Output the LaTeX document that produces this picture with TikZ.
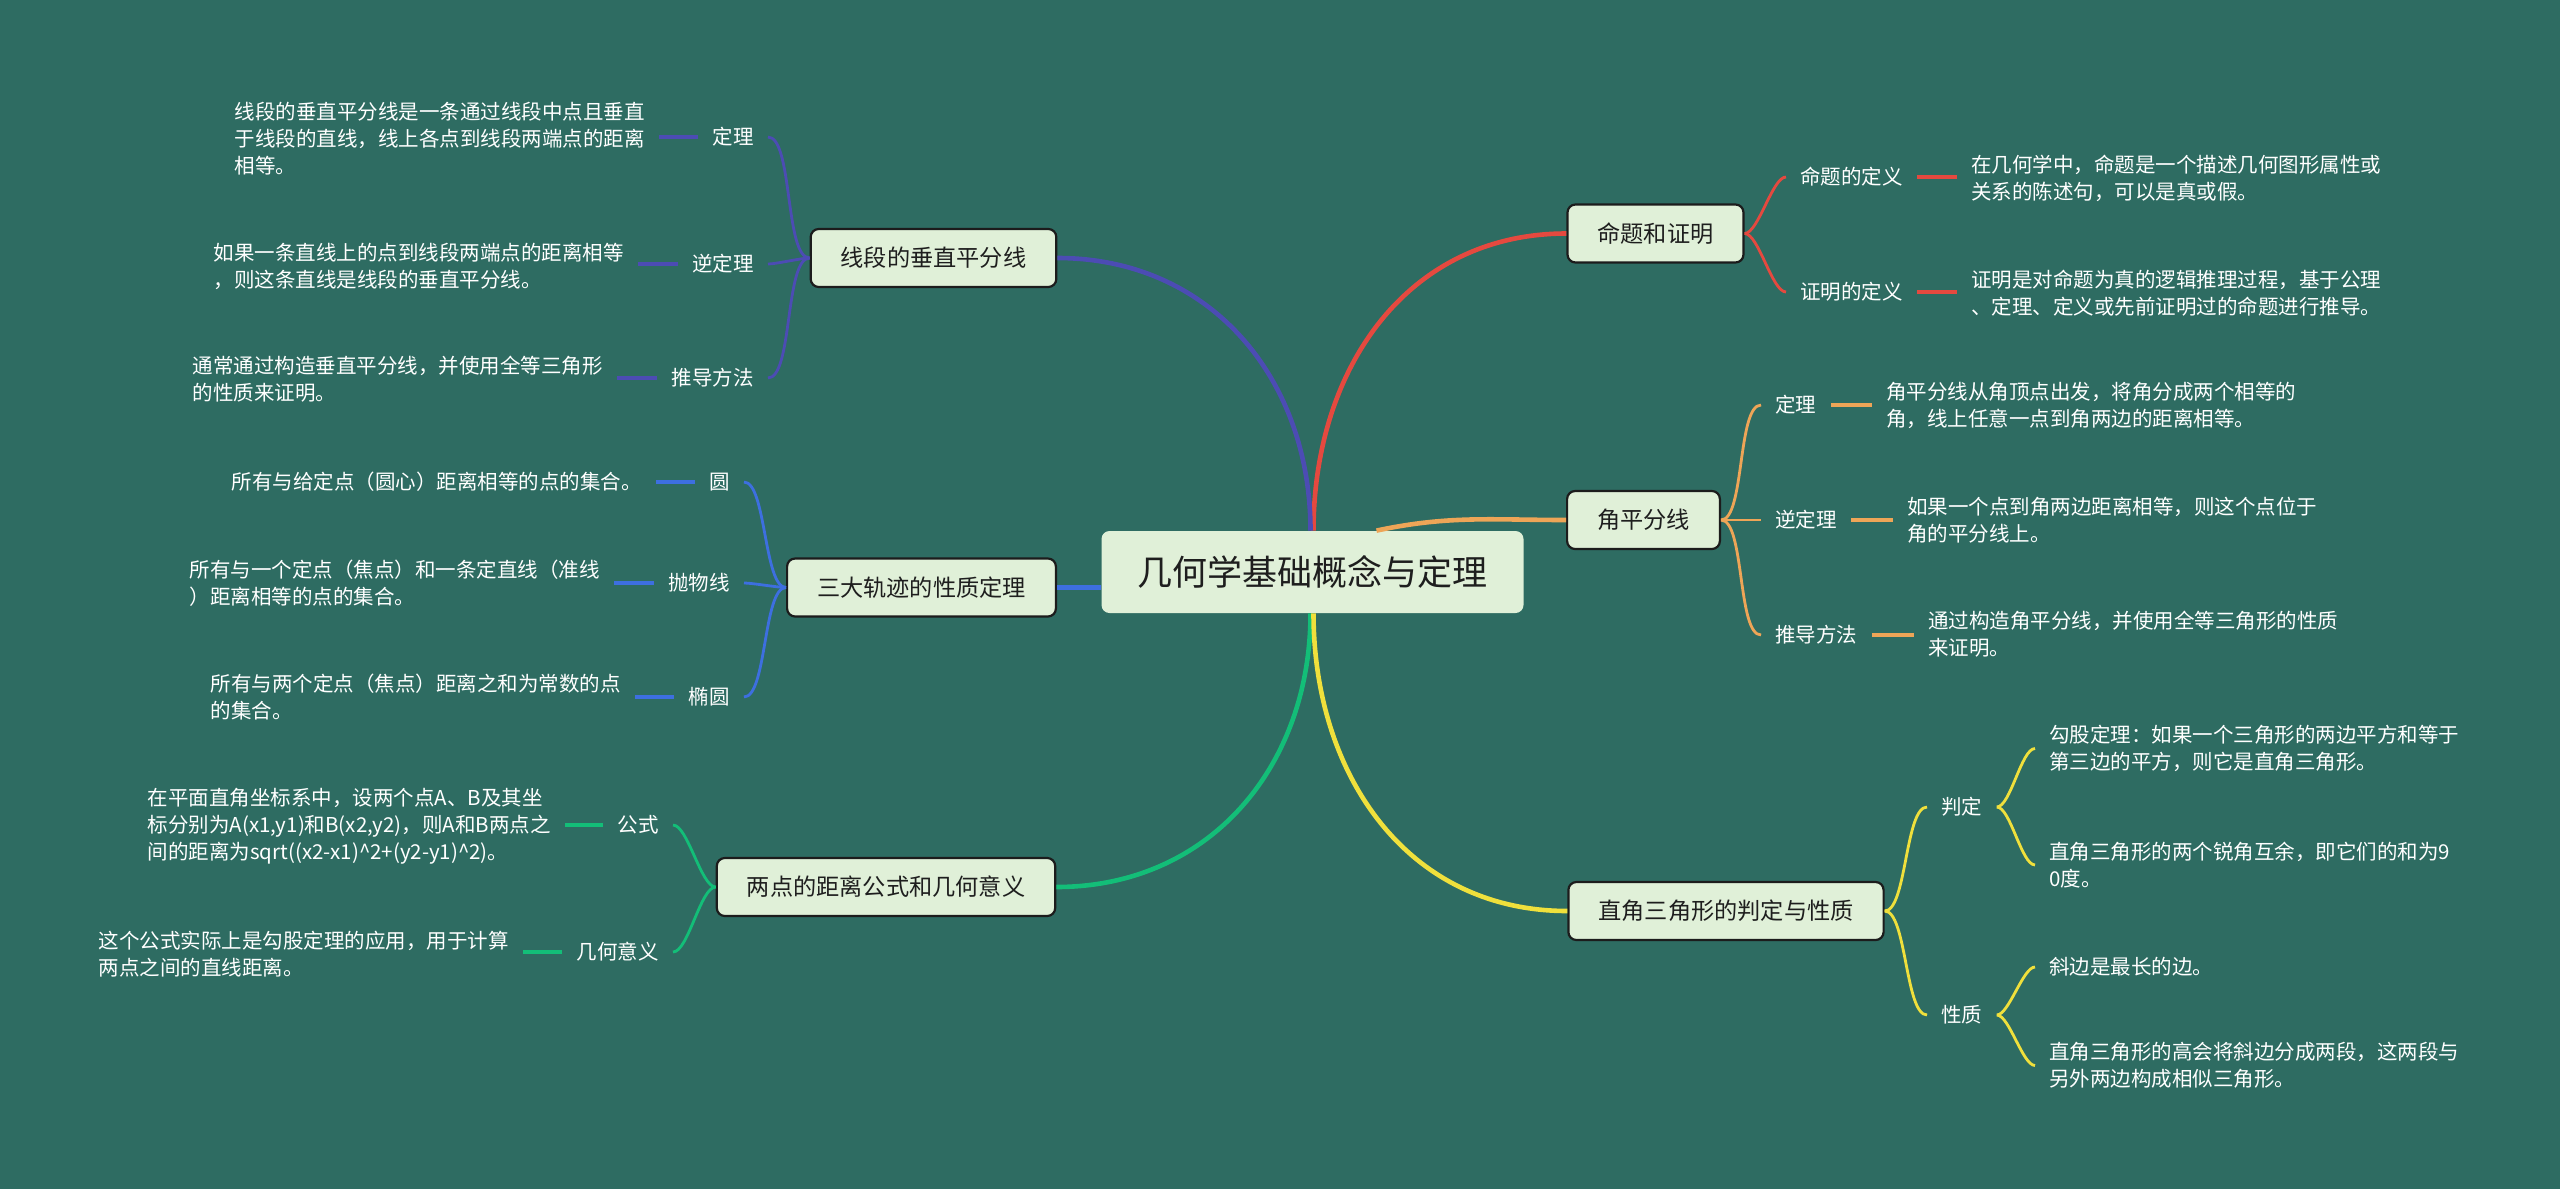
\documentclass[tikz,border=0pt]{standalone}
\usepackage{fontspec}
\setmainfont{Noto Sans CJK SC}
\definecolor{bgteal}{RGB}{46,108,98}
\definecolor{boxfill}{RGB}{224,240,216}
\definecolor{boxline}{RGB}{28,28,28}
\definecolor{boxtext}{RGB}{30,30,30}
\definecolor{redline}{RGB}{229,73,63}
\definecolor{navyline}{RGB}{76,76,180}
\definecolor{blueline}{RGB}{61,111,224}
\definecolor{greenline}{RGB}{19,190,120}
\definecolor{orangeline}{RGB}{238,165,87}
\definecolor{yellowline}{RGB}{240,224,60}

\begin{document}
\begin{tikzpicture}[x=0.5pt,y=-0.5pt,
  rootbox/.style={rounded corners=4pt,fill=boxfill,text=boxtext,minimum height=41pt,inner xsep=18pt,font=\fontsize{17.5}{21}\selectfont},
  topicbox/.style={rounded corners=4pt,draw=boxline,line width=1.1pt,fill=boxfill,text=boxtext,minimum height=29pt,inner xsep=15pt,font=\fontsize{11.6}{14}\selectfont},
  sublabel/.style={text=white,inner xsep=7pt,inner ysep=1pt,font=\fontsize{10.25}{13.5}\selectfont},
  leaftext/.style={text=white,align=left,inner xsep=7pt,inner ysep=1pt,font=\fontsize{10.25}{13.5}\selectfont},
  branch/.style={line width=2.3pt},
  twig/.style={line width=1.4pt,looseness=0.5},
  tick/.style={line width=1.7pt}]
  \fill[bgteal] (0,0) rectangle (2560,1189);

  \node (root) at (1312.5,572) [rootbox] {几何学基础概念与定理};

  \node (xd) at (933.5,258) [topicbox] {线段的垂直平分线};
  \node (gj) at (921.5,587.5) [topicbox] {三大轨迹的性质定理};
  \node (jl) at (886,887) [topicbox] {两点的距离公式和几何意义};
  \node (mt) at (1655.5,233.5) [topicbox] {命题和证明};
  \node (jp) at (1643.5,520) [topicbox] {角平分线};
  \node (zj) at (1726,911) [topicbox] {直角三角形的判定与性质};

  \draw[branch,redline] ([xshift=0.5pt]root.north) to[out=90,in=180,looseness=1.05] (mt.west);
  \draw[branch,navyline] ([xshift=-1pt]root.north) to[out=90,in=0,looseness=1.05] (xd.east);
  \draw[branch,orangeline] ([xshift=32pt]root.north) to[out=12,in=180] (jp.west);
  \draw[branch,blueline] (gj.east) -- (gj.east -| root.west);
  \draw[branch,greenline] ([xshift=-1pt]root.south) to[out=-90,in=0,looseness=1.05] (jl.east);
  \draw[branch,yellowline] ([xshift=0.5pt]root.south) to[out=-90,in=180,looseness=1.05] (zj.west);

  \node (xd1) at (768,137) [sublabel,anchor=east] {定理};
  \node (xd1t) at (659,139) [leaftext,anchor=east]
  {线段的垂直平分线是一条通过线段中点且垂直\\于线段的直线，线上各点到线段两端点的距离\\相等。};
  \node (xd2) at (768,264) [sublabel,anchor=east] {逆定理};
  \node (xd2t) at (638,266) [leaftext,anchor=east]
  {如果一条直线上的点到线段两端点的距离相等\\，则这条直线是线段的垂直平分线。};
  \node (xd3) at (768,378) [sublabel,anchor=east] {推导方法};
  \node (xd3t) at (617,379) [leaftext,anchor=east]
  {通常通过构造垂直平分线，并使用全等三角形\\的性质来证明。};
  \foreach \n in {xd1,xd2,xd3} {
    \draw[twig,navyline] (xd.west) to[out=180,in=0] (\n.east);
    \draw[tick,navyline] (\n.west) -- (\n.west -| \n t.east);
  }

  \node (gj1) at (744,482) [sublabel,anchor=east] {圆};
  \node (gj1t) at (656,482) [leaftext,anchor=east]
  {所有与给定点（圆心）距离相等的点的集合。};
  \node (gj2) at (744,583) [sublabel,anchor=east] {抛物线};
  \node (gj2t) at (614,583.5) [leaftext,anchor=east]
  {所有与一个定点（焦点）和一条定直线（准线\\）距离相等的点的集合。};
  \node (gj3) at (744,697) [sublabel,anchor=east] {椭圆};
  \node (gj3t) at (635,697.5) [leaftext,anchor=east]
  {所有与两个定点（焦点）距离之和为常数的点\\的集合。};
  \foreach \n in {gj1,gj2,gj3} {
    \draw[twig,blueline] (gj.west) to[out=180,in=0] (\n.east);
    \draw[tick,blueline] (\n.west) -- (\n.west -| \n t.east);
  }

  \node (jl1) at (673,825) [sublabel,anchor=east] {公式};
  \node (jl1t) at (565,826) [leaftext,anchor=east]
  {在平面直角坐标系中，设两个点A、B及其坐\\标分别为A(x1,y1)和B(x2,y2)，则A和B两点之\\间的距离为sqrt((x2-x1)\textasciicircum2+(y2-y1)\textasciicircum2)。};
  \node (jl2) at (673,952) [sublabel,anchor=east] {几何意义};
  \node (jl2t) at (523,954) [leaftext,anchor=east]
  {这个公式实际上是勾股定理的应用，用于计算\\两点之间的直线距离。};
  \foreach \n in {jl1,jl2} {
    \draw[twig,greenline] (jl.west) to[out=180,in=0] (\n.east);
    \draw[tick,greenline] (\n.west) -- (\n.west -| \n t.east);
  }

  \node (mt1) at (1786,177) [sublabel,anchor=west] {命题的定义};
  \node (mt1t) at (1957,178.5) [leaftext,anchor=west]
  {在几何学中，命题是一个描述几何图形属性或\\关系的陈述句，可以是真或假。};
  \node (mt2) at (1786,292) [sublabel,anchor=west] {证明的定义};
  \node (mt2t) at (1957,293.5) [leaftext,anchor=west]
  {证明是对命题为真的逻辑推理过程，基于公理\\、定理、定义或先前证明过的命题进行推导。};
  \foreach \n in {mt1,mt2} {
    \draw[twig,redline] (mt.east) to[out=0,in=180] (\n.west);
    \draw[tick,redline] (\n.east) -- (\n.east -| \n t.west);
  }

  \node (jp1) at (1761,405) [sublabel,anchor=west] {定理};
  \node (jp1t) at (1872,405.5) [leaftext,anchor=west]
  {角平分线从角顶点出发，将角分成两个相等的\\角，线上任意一点到角两边的距离相等。};
  \node (jp2) at (1761,520) [sublabel,anchor=west] {逆定理};
  \node (jp2t) at (1893,520) [leaftext,anchor=west]
  {如果一个点到角两边距离相等，则这个点位于\\角的平分线上。};
  \node (jp3) at (1761,635) [sublabel,anchor=west] {推导方法};
  \node (jp3t) at (1914,634.5) [leaftext,anchor=west]
  {通过构造角平分线，并使用全等三角形的性质\\来证明。};
  \foreach \n in {jp1,jp2,jp3} {
    \draw[twig,orangeline] (jp.east) to[out=0,in=180] (\n.west);
    \draw[tick,orangeline] (\n.east) -- (\n.east -| \n t.west);
  }

  \node (zj1) at (1927,807) [sublabel,anchor=west] {判定};
  \node (zj1a) at (2035,748.5) [leaftext,anchor=west]
  {勾股定理：如果一个三角形的两边平方和等于\\第三边的平方，则它是直角三角形。};
  \node (zj1b) at (2035,865) [leaftext,anchor=west]
  {直角三角形的两个锐角互余，即它们的和为9\\0度。};
  \node (zj2) at (1927,1015) [sublabel,anchor=west] {性质};
  \node (zj2a) at (2035,967) [leaftext,anchor=west]
  {斜边是最长的边。};
  \node (zj2b) at (2035,1065.5) [leaftext,anchor=west]
  {直角三角形的高会将斜边分成两段，这两段与\\另外两边构成相似三角形。};
  \foreach \n in {zj1,zj2}
    \draw[twig,yellowline] (zj.east) to[out=0,in=180] (\n.west);
  \foreach \n in {zj1a,zj1b}
    \draw[twig,yellowline] (zj1.east) to[out=0,in=180] (\n.west);
  \foreach \n in {zj2a,zj2b}
    \draw[twig,yellowline] (zj2.east) to[out=0,in=180] (\n.west);
\end{tikzpicture}
\end{document}
